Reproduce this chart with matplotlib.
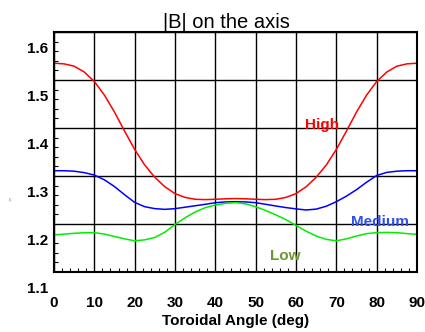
import matplotlib
matplotlib.use('Agg')
import matplotlib.pyplot as plt
from matplotlib.ticker import MultipleLocator
from matplotlib.transforms import ScaledTranslation
import numpy as np

plt.rcParams['font.family'] = ['Liberation Sans', 'DejaVu Sans']

angle = np.arange(0, 90.1, 2.5)

b_high = [1.535, 1.5336, 1.5288, 1.5166, 1.4968, 1.4685, 1.4331, 1.3935, 1.3553,
          1.3228, 1.2973, 1.2775, 1.2633, 1.2554, 1.2515, 1.2508, 1.2515, 1.2525,
          1.253,
          1.2525, 1.2515, 1.2508, 1.2515, 1.2554, 1.2633, 1.2775, 1.2973, 1.3228,
          1.3553, 1.3935, 1.4331, 1.4685, 1.4968, 1.5166, 1.5288, 1.5336, 1.535]

b_medium = [1.311, 1.311, 1.310, 1.307, 1.302, 1.292, 1.278, 1.261, 1.245,
            1.236, 1.232, 1.2305, 1.232, 1.235, 1.238, 1.241, 1.2444, 1.246,
            1.2465,
            1.246, 1.2444, 1.241, 1.2375, 1.2342, 1.2315, 1.2292, 1.231, 1.237,
            1.2465, 1.258, 1.2715, 1.287, 1.301, 1.3075, 1.310, 1.311, 1.311]

b_low = [1.177, 1.179, 1.1806, 1.1818, 1.182, 1.179, 1.174, 1.169, 1.165,
         1.167, 1.172, 1.183, 1.199, 1.213, 1.225, 1.234, 1.2396, 1.243,
         1.2445,
         1.242, 1.236, 1.228, 1.219, 1.209, 1.197, 1.185, 1.175, 1.168,
         1.165, 1.169, 1.175, 1.180, 1.182, 1.1825, 1.182, 1.180, 1.1785]

xticks = np.arange(0, 91, 10)
yticks = [1.1, 1.2, 1.3, 1.4, 1.5, 1.6]

fig = plt.figure(figsize=(4.25, 3.32), dpi=100)
ax = fig.add_axes([54/425, 60/332, 363/425, 240/332])

ax.plot(angle, b_high, color='#ff0000', lw=1.1)
ax.plot(angle, b_medium, color='#0000ff', lw=1.1)
ax.plot(angle, b_low, color='#00ee00', lw=1.1)

ax.set_xlim(0, 90)
ax.set_ylim(1.1, 1.6)
ax.set_xticks(xticks)
ax.set_yticks(yticks)
ax.xaxis.set_minor_locator(MultipleLocator(2))
ax.yaxis.set_minor_locator(MultipleLocator(0.02))
ax.grid(True, which='major', color='black', lw=1.0)

ax.tick_params(which='both', direction='in', top=False, right=False)
ax.tick_params(which='major', length=0)
ax.tick_params(which='minor', length=3, width=0.8)
ax.tick_params(axis='x', pad=17, labelsize=11)
ax.tick_params(axis='y', pad=4, labelsize=11)
for lab in ax.get_xticklabels() + ax.get_yticklabels():
    lab.set_fontweight('bold')
# IDL puts the y labels a little below their ticks
off = ScaledTranslation(0, -15.5/100, fig.dpi_scale_trans)
for lab in ax.get_yticklabels():
    lab.set_transform(lab.get_transform() + off)

for s in ax.spines.values():
    s.set_linewidth(1.5)

fig.text(226/425, 1 - 22/332, '|B| on the axis', ha='center', va='center', fontsize=14.5)
fig.text(235.5/425, 1 - 321/332, 'Toroidal Angle (deg)', ha='center', va='center',
         fontsize=11, fontweight='bold')
fig.text(10/425, 1 - 200/332, '|B|', ha='center', va='center', fontsize=2, color='gray')

ax.annotate('High', xy=(322/425, 1 - 125/332), xycoords='figure fraction', ha='center',
            va='center', fontsize=11, fontweight='bold', color='#ff0000')
ax.annotate('Medium', xy=(380/425, 1 - 222/332), xycoords='figure fraction', ha='center',
            va='center', fontsize=11, fontweight='bold', color='#3050e8')
ax.annotate('Low', xy=(285.5/425, 1 - 256/332), xycoords='figure fraction', ha='center',
            va='center', fontsize=11, fontweight='bold', color='#6e9632')

fig.savefig('out.png', dpi=100)
